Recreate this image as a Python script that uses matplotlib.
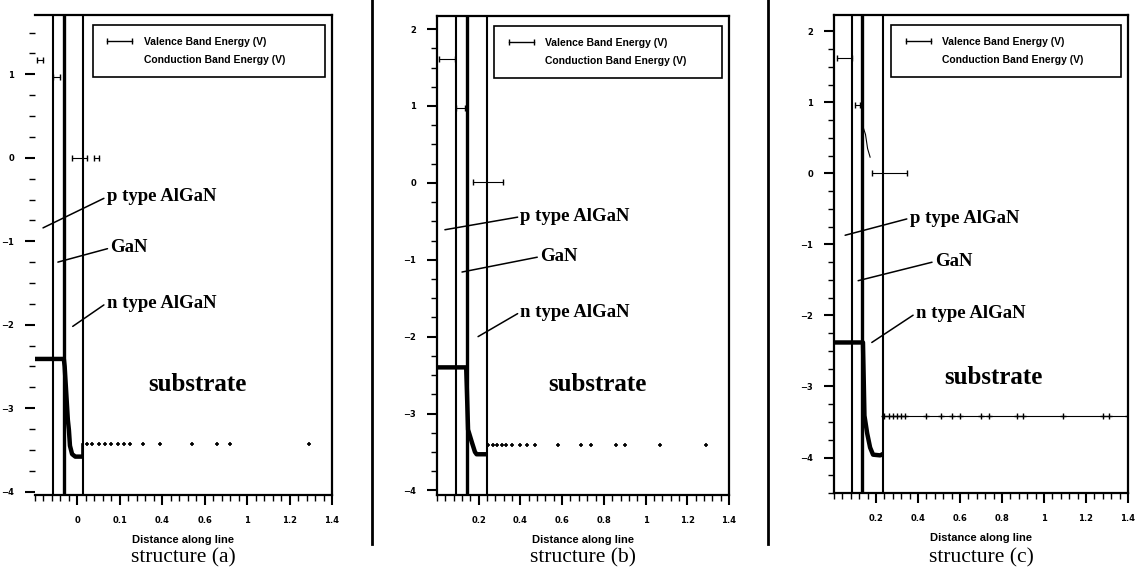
import matplotlib.pyplot as plt
from matplotlib.lines import Line2D
from matplotlib.ticker import AutoMinorLocator

# ---- structure (a) ----
a_layers = [0.085, 0.136, 0.225]
a_vb_x = [0.0, 0.136, 0.14, 0.155, 0.16, 0.165, 0.175, 0.19, 0.224]
a_vb_y = [-2.41, -2.41, -2.5, -3.14, -3.26, -3.45, -3.55, -3.58, -3.58]
a_tail_x = [0.245, 0.27, 0.3, 0.33, 0.36, 0.39, 0.42, 0.45, 0.51, 0.59, 0.74, 0.86, 0.92, 1.29]
a_tail_y = [-3.43] * len(a_tail_x)
a_cb_x0 = [0.01, 0.085, 0.175, 0.28]
a_cb_x1 = [0.04, 0.12, 0.245, 0.30]
a_cb_y = [1.17, 0.97, 0.0, 0.0]
a_xticks = [0.2, 0.4, 0.6, 0.8, 1.0, 1.2, 1.4]
a_xlabels = ["0", "0.1", "0.4", "0.6", "1", "1.2", "1.4"]
a_yticks = [1, 0, -1, -2, -3, -4]

# ---- structure (b) ----
b_layers = [0.091, 0.144, 0.24]
b_vb_x = [0.0, 0.14, 0.149, 0.168, 0.182, 0.19, 0.238]
b_vb_y = [-2.4, -2.4, -3.21, -3.38, -3.5, -3.53, -3.53]
b_tail_x = [0.245, 0.27, 0.29, 0.31, 0.33, 0.36, 0.4, 0.43, 0.47, 0.58, 0.69, 0.74, 0.86, 0.9, 1.07, 1.29]
b_tail_y = [-3.41] * len(b_tail_x)
b_cb_x0 = [0.01, 0.091, 0.173]
b_cb_x1 = [0.086, 0.134, 0.316]
b_cb_y = [1.61, 0.97, 0.01]
b_xticks = [0.2, 0.4, 0.6, 0.8, 1.0, 1.2, 1.4]
b_xlabels = ["0.2", "0.4", "0.6", "0.8", "1", "1.2", "1.4"]
b_yticks = [2, 1, 0, -1, -2, -3, -4]

# ---- structure (c) ----
c_layers = [0.086, 0.134, 0.234]
c_vb_x = [0.0, 0.138, 0.145, 0.158, 0.172, 0.186, 0.22, 0.233]
c_vb_y = [-2.38, -2.38, -3.41, -3.66, -3.86, -3.96, -3.97, -3.95]
c_tail_x = [0.236, 0.26, 0.28, 0.3, 0.32, 0.34, 0.44, 0.51, 0.56, 0.6, 0.7, 0.74, 0.87, 0.9, 1.09, 1.28, 1.31, 1.4]
c_tail_y = [-3.42] * len(c_tail_x)
c_cb_x0 = [0.015, 0.10, 0.18]
c_cb_x1 = [0.085, 0.125, 0.35]
c_cb_y = [1.62, 0.97, 0.0]
c_cb_curve_x = [0.139, 0.15, 0.16, 0.172]
c_cb_curve_y = [0.65, 0.55, 0.35, 0.23]
c_xticks = [0.2, 0.4, 0.6, 0.8, 1.0, 1.2, 1.4]
c_xlabels = ["0.2", "0.4", "0.6", "0.8", "1", "1.2", "1.4"]
c_yticks = [2, 1, 0, -1, -2, -3, -4]

label_names = ["p type AlGaN", "GaN", "n type AlGaN"]

fig = plt.figure(figsize=(11.35, 5.73), dpi=100)

def panel(rect, ylim, layers, vb_x, vb_y, tail_x, tail_y, cb_x0, cb_x1, cb_y,
          xticks, xlabels, yticks, notes, sub_xy, caption, tail_line=False):
    ax = fig.add_axes(rect)
    ax.set_xlim(0, 1.4)
    ax.set_ylim(*ylim)

    for i, lx in enumerate(layers):
        ax.axvline(lx, color='black', lw=2.4 if i == 1 else 1.5)

    ax.plot(vb_x, vb_y, color='black', lw=3.2, solid_capstyle='butt')
    ax.plot([vb_x[-1], vb_x[-1]], [vb_y[-1], tail_y[0]], color='black', lw=1.2)
    if tail_line:
        ax.plot(tail_x, tail_y, color='black', lw=0.8, marker='+', ms=4)
    else:
        ax.plot(tail_x, tail_y, color='black', lw=0, marker='+', ms=3.5, mew=1.2)

    for x0, x1, y in zip(cb_x0, cb_x1, cb_y):
        ax.plot([x0, x1], [y, y], color='black', lw=0.8, marker='|', ms=4)

    ax.set_xticks(xticks)
    ax.set_xticklabels(xlabels)
    ax.set_yticks(yticks)
    ax.xaxis.set_minor_locator(AutoMinorLocator(5))
    ax.yaxis.set_minor_locator(AutoMinorLocator(4))
    ax.tick_params(axis='both', which='major', direction='out', length=7, width=1.5,
                   labelsize=6, pad=8)
    ax.tick_params(axis='both', which='minor', direction='out', length=4, width=1)
    for lab in ax.get_xticklabels() + ax.get_yticklabels():
        lab.set_fontweight('bold')
    for s in ax.spines.values():
        s.set_linewidth(1.6)

    ax.set_xlabel("Distance along line", fontsize=8, fontweight='bold',
                  family='Liberation Sans', labelpad=7)

    for name, (sx, sy, ex, ey, tx, ty) in zip(label_names, notes):
        ax.annotate(name, xy=(sx, sy), xytext=(tx, ty), fontsize=13.5,
                    fontweight='bold', family='Liberation Serif', va='center',
                    ha='left', arrowprops=dict(arrowstyle='-', lw=1.1,
                                               color='black', shrinkA=0, shrinkB=0,
                                               relpos=(0, 0.5)))
    ax.text(sub_xy[0], sub_xy[1], "substrate", fontsize=18, fontweight='bold',
            family='Liberation Serif', ha='center', va='center')

    handles = [Line2D([], [], color='black', lw=1, marker='|', ms=5),
               Line2D([], [], color='none')]
    leg = ax.legend(handles, ["Valence Band Energy (V)", "Conduction Band Energy (V)"],
                    loc='upper left', bbox_to_anchor=(0.195, 0.979, 0.78, 0.0),
                    mode='expand', numpoints=2, fancybox=False, edgecolor='black',
                    framealpha=1, borderpad=1.1, borderaxespad=0, labelspacing=0.85,
                    handlelength=3, handletextpad=0.8,
                    prop={'family': 'Liberation Sans', 'weight': 'bold', 'size': 7.5})
    leg.get_frame().set_linewidth(1.2)

    fig.text(rect[0] + rect[2] / 2, 0.026, caption, ha='center', va='center',
             fontsize=15.5, family='Liberation Serif')
    return ax

ax_a = panel([0.0308, 0.1361, 0.2617, 0.8377], (-4.04, 1.71), a_layers,
             a_vb_x, a_vb_y, a_tail_x, a_tail_y, a_cb_x0, a_cb_x1, a_cb_y,
             a_xticks, a_xlabels, a_yticks,
             [(0.038, -0.84, 0.315, -0.42, 0.338, -0.47),
              (0.108, -1.25, 0.338, -1.07, 0.355, -1.08),
              (0.178, -2.02, 0.315, -1.68, 0.338, -1.74)],
             (0.765, -2.72), "structure (a)")
ax_a.spines['left'].set_visible(False)

ax_b = panel([0.385, 0.1361, 0.2573, 0.8360], (-4.06, 2.17), b_layers,
             b_vb_x, b_vb_y, b_tail_x, b_tail_y, b_cb_x0, b_cb_x1, b_cb_y,
             b_xticks, b_xlabels, b_yticks,
             [(0.038, -0.61, 0.384, -0.39, 0.4, -0.44),
              (0.12, -1.16, 0.48, -0.96, 0.494, -0.96),
              (0.197, -2.0, 0.384, -1.65, 0.4, -1.68)],
             (0.77, -2.62), "structure (b)")

ax_c = panel([0.7348, 0.1396, 0.259, 0.834], (-4.5, 2.23), c_layers,
             c_vb_x, c_vb_y, c_tail_x, c_tail_y, c_cb_x0, c_cb_x1, c_cb_y,
             c_xticks, c_xlabels, c_yticks,
             [(0.053, -0.87, 0.349, -0.55, 0.36, -0.63),
              (0.115, -1.51, 0.473, -1.18, 0.48, -1.24),
              (0.18, -2.38, 0.377, -1.93, 0.39, -1.97)],
             (0.76, -2.87), "structure (c)", tail_line=True)
ax_c.plot(c_cb_curve_x, c_cb_curve_y, color='black', lw=0.8)

# divider lines between the three structures
for fx in [372 / 1135, 768 / 1135]:
    fig.add_artist(Line2D([fx, fx], [1.0, 0.05], transform=fig.transFigure,
                          color='black', lw=2))

fig.savefig('out.png', dpi=100)
